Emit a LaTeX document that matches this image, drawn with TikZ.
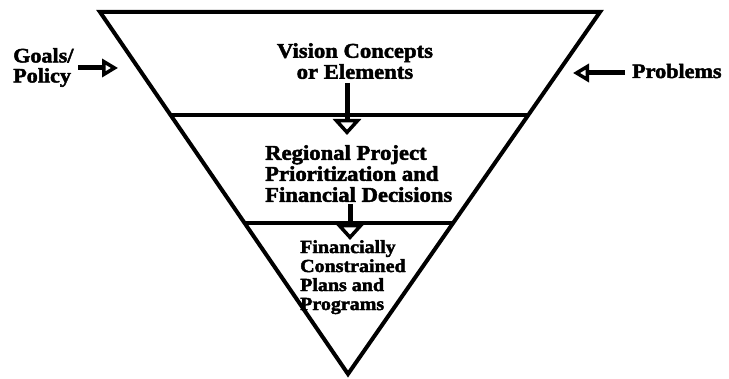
\documentclass[tikz,border=0pt]{standalone}
\usepackage{fontspec}
\setmainfont{Liberation Serif}
\newfontfamily\heavy{Liberation Serif Bold}[FakeStretch=1.08,FakeBold=2.2]
\usetikzlibrary{calc,arrows.meta}
\begin{document}
\begin{tikzpicture}[x=1pt,y=-1pt,
  edge/.style={line width=4pt,line join=miter},
  divider/.style={line width=4.5pt},
  txt/.style={inner sep=0pt,font=\heavy\fontsize{21}{21}\selectfont},
  smalltxt/.style={inner sep=0pt,font=\heavy\fontsize{18.5}{19}\selectfont},
  vflow/.style={line width=5pt,-{Triangle[open,length=16pt,width=28pt,line width=3.5pt]}},
  hflow/.style={line width=5pt,-{Triangle[open,length=16pt,width=18pt,line width=3.5pt]}}]
\useasboundingbox (0,0) rectangle (729,379);
\coordinate (TL) at (100,12);
\coordinate (TR) at (600,12);
\coordinate (AP) at (348,374);
\draw[edge] (TL) -- (TR) -- (AP) -- cycle;
\draw[divider] ($(TL)!0.2845!(AP)$) -- ($(TR)!0.2845!(AP)$);
\draw[divider] ($(TL)!0.583!(AP)$) -- ($(TR)!0.583!(AP)$);
\node[txt,align=center,anchor=north] (vision) at (355,43) {Vision Concepts\\or Elements};
\node[txt,align=left,anchor=north west] (regional) at (265,145) {Regional Project\\Prioritization and\\Financial Decisions};
\node[smalltxt,align=left,anchor=north west] (fin) at (300,240) {Financially\\Constrained\\Plans and\\Programs};
\node[txt,font=\heavy\fontsize{20.5}{20}\selectfont,align=left,anchor=north west] (goals) at (13,48) {Goals/\\Policy};
\node[txt,font=\heavy\fontsize{20.5}{20}\selectfont,anchor=base west] (problems) at (632,78) {Problems};
\coordinate (v1s) at (347,83);
\coordinate (v1e) at (347,135);
\coordinate (v2s) at (350,204);
\coordinate (v2e) at (350,240);
\coordinate (gs) at (78,68);
\coordinate (ge) at (118,68);
\coordinate (ps) at (625,73);
\coordinate (pe) at (573,73);
\draw[vflow] (v1s) -- (v1e);
\draw[vflow] (v2s) -- (v2e);
\draw[hflow] (gs) -- (ge);
\draw[hflow] (ps) -- (pe);
\end{tikzpicture}
\end{document}
